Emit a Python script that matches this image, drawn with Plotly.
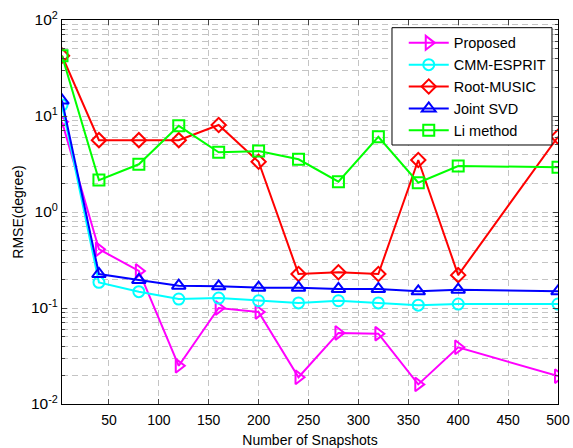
import plotly.graph_objects as go

# Number of snapshots (first point sits on the left edge of the axis)
snapshots = [3, 40, 80, 120, 160, 200, 240, 280, 320, 360, 400, 500]

# RMSE (degree) for each method
rmse_proposed = [8.7, 0.41, 0.243, 0.025, 0.10, 0.091, 0.019, 0.055, 0.054, 0.016, 0.039, 0.0195]
rmse_cmm_esprit = [13.0, 0.185, 0.148, 0.124, 0.127, 0.119, 0.113, 0.119, 0.113, 0.107, 0.110, 0.110]
rmse_root_music = [42.5, 5.6, 5.6, 5.6, 8.06, 3.34, 0.226, 0.236, 0.226, 3.48, 0.22, 6.08]
rmse_joint_svd = [14.5, 0.226, 0.196, 0.171, 0.168, 0.163, 0.163, 0.158, 0.158, 0.149, 0.155, 0.149]
rmse_li_method = [42.5, 2.15, 3.14, 7.9, 4.19, 4.31, 3.54, 2.07, 6.08, 2.02, 3.01, 2.93]

series_names = ["Proposed", "CMM-ESPRIT", "Root-MUSIC", "Joint SVD", "Li method"]
series_values = [rmse_proposed, rmse_cmm_esprit, rmse_root_music, rmse_joint_svd, rmse_li_method]
series_colors = ["#FF00FF", "#00FFFF", "#FF0000", "#0000FF", "#00FF00"]
series_symbols = ["triangle-right-open", "circle-open", "diamond-open", "triangle-up-open", "square-open"]
series_sizes = [12, 11, 11, 12, 11]

x_ticks = [50, 100, 150, 200, 250, 300, 350, 400, 450, 500]
y_ticks = [0.01, 0.1, 1, 10, 100]
y_ticktext = ["10<sup>-2</sup>", "10<sup>-1</sup>", "10<sup>0</sup>", "10<sup>1</sup>", "10<sup>2</sup>"]
y_minor = [k * 10.0 ** e for e in range(-2, 2) for k in range(2, 10)]

fig = go.Figure()
for name, vals, color, sym, size in zip(series_names, series_values, series_colors,
                                        series_symbols, series_sizes):
    fig.add_trace(go.Scatter(
        x=snapshots, y=vals, name=name, mode="lines+markers",
        line=dict(color=color, width=2),
        marker=dict(symbol=sym, size=size, color=color, line=dict(color=color, width=2)),
    ))

font_family = "Liberation Sans, Arial, Helvetica, sans-serif"
grid_color = "#c4c4c4"

# white legend box with a black frame, drawn over the data
fig.add_shape(type="rect", xref="paper", yref="paper",
              x0=0.6653, x1=0.9879, y0=0.6745, y1=0.980,
              fillcolor="white", line=dict(color="black", width=1), layer="above")

fig.update_layout(
    width=573, height=448,
    margin=dict(l=62, r=15, t=20, b=44),
    paper_bgcolor="white", plot_bgcolor="white",
    font=dict(family=font_family, size=14, color="black"),
    legend=dict(
        x=0.689, y=0.982, xanchor="left", yanchor="top",
        bgcolor="rgba(0,0,0,0)", borderwidth=0,
        font=dict(size=14.5, family=font_family),
        itemwidth=40, tracegroupgap=0,
    ),
    showlegend=True,
)

fig.update_xaxes(
    range=[3, 500], tickvals=x_ticks, ticks="inside", ticklen=5,
    showline=True, linecolor="black", linewidth=1, mirror="allticks",
    showgrid=True, gridcolor=grid_color, griddash="6px,4px", gridwidth=1,
    zeroline=False, automargin=False, ticklabelstandoff=3,
    title=dict(text="Number of Snapshots", font=dict(size=14), standoff=8),
    tickfont=dict(size=14),
)
fig.update_yaxes(
    type="log", range=[-2, 2], tickvals=y_ticks, ticktext=y_ticktext,
    ticks="inside", ticklen=5,
    showline=True, linecolor="black", linewidth=1, mirror="allticks",
    showgrid=True, gridcolor=grid_color, griddash="6px,4px", gridwidth=1,
    minor=dict(tickvals=y_minor, ticks="inside", ticklen=3, showgrid=True,
               gridcolor=grid_color, griddash="6px,4px", gridwidth=1),
    zeroline=False, automargin=False,
    title=dict(text="RMSE(degree)", font=dict(size=14), standoff=4),
    tickfont=dict(size=15.5),
)

fig.write_html("out.html")
